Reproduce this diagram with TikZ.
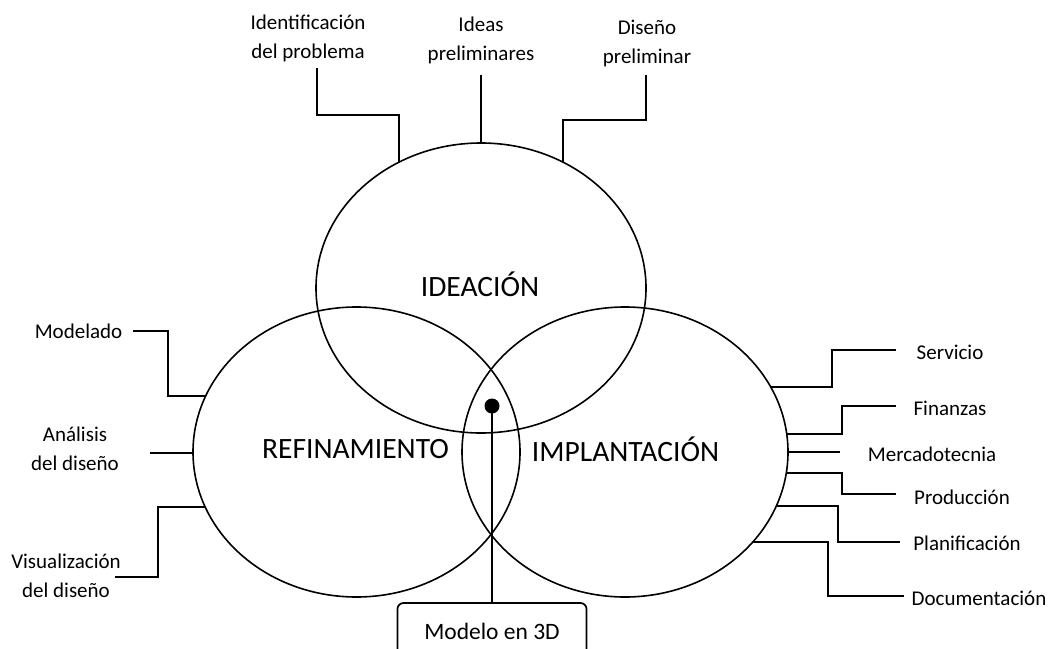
\documentclass[tikz,border=0pt]{standalone}
\usepackage{fontspec}
\setmainfont{Carlito}
\usetikzlibrary{shapes.geometric}
\begin{document}
\begin{tikzpicture}[x=1pt,y=-1pt,
  circle3/.style={draw=black,line width=1.6pt,ellipse,inner sep=0pt},
  conn/.style={draw=black,line width=2.2pt},
  lbl/.style={font=\fontsize{21}{29}\selectfont,align=center,inner sep=0pt},
  big/.style={font=\fontsize{29.5}{32}\selectfont,inner sep=0pt},
  modelbox/.style={draw=black,line width=1.7pt,rounded corners=6pt,minimum width=189pt,minimum height=60pt,inner sep=0pt}]
\useasboundingbox (0,0) rectangle (1052,648);
\clip (0,0) rectangle (1052,648);

% the three overlapping areas
\node[circle3,minimum width=330pt,minimum height=290pt] (ide) at (481,288) {};
\node[circle3,minimum width=327pt,minimum height=290pt] (ref) at (356.5,452) {};
\node[circle3,minimum width=326pt,minimum height=290pt] (imp) at (625,452) {};

\node[big] (tide) at (480,284) {IDEACIÓN};
\node[big] (tref) at (355.5,449) {REFINAMIENTO};
\node[big] (timp) at (625.5,449) {IMPLANTACIÓN};

% central model
\node[modelbox] (box) at (492,633) {};
\node[font=\fontsize{23.5}{26}\selectfont,inner sep=0pt] (tbox) at (492,631) {Modelo en 3D};
\node[circle,fill=black,inner sep=0pt,minimum size=15pt] (dot) at (492,406) {};
\draw[conn] (dot.center) -- (box.north);

% attachment points on the borders
\coordinate (i1) at (399,162);
\coordinate (i2) at (481,143);
\coordinate (i3) at (563,162);
\coordinate (r1) at (205,396);
\coordinate (r2) at (193,453);
\coordinate (r3) at (205,507);
\coordinate (m1) at (771,387);
\coordinate (m2) at (787,434);
\coordinate (m3) at (788,452);
\coordinate (m4) at (786,473);
\coordinate (m5) at (776,506);
\coordinate (m6) at (753,542);

% top labels
\node[lbl] (l1) at (308,38) {Identificación\\del problema};
\node[lbl] (l2) at (481,40) {Ideas\\preliminares};
\node[lbl] (l3) at (647,43) {Diseño\\preliminar};
\coordinate (a1) at (317,68);
\coordinate (a2) at (481,75);
\coordinate (a3) at (646,75);
\draw[conn] (i1) -- (399,115) -| (a1);
\draw[conn] (i2) -- (a2);
\draw[conn] (i3) -- (563,120) -| (a3);

% left labels
\node[lbl] (l4) at (78.5,331) {Modelado};
\node[lbl] (l5) at (75,449) {Análisis\\del diseño};
\node[lbl] (l6) at (66,576) {Visualización\\del diseño};
\coordinate (a4) at (133,331);
\coordinate (a5) at (150,453);
\coordinate (a6) at (115,577);
\draw[conn] (a4) -| (168,396) -- (r1);
\draw[conn] (a5) -- (r2);
\draw[conn] (r3) -- (158,507) |- (a6);

% right labels
\node[lbl] (l7) at (950,352) {Servicio};
\node[lbl] (l8) at (950,408) {Finanzas};
\node[lbl] (l9) at (932,454) {Mercadotecnia};
\node[lbl] (l10) at (962,497) {Producción};
\node[lbl] (l11) at (967,543) {Planificación};
\node[lbl] (l12) at (979,598) {Documentación};
\coordinate (a7) at (896,350);
\coordinate (a8) at (896,406);
\coordinate (a9) at (840,452);
\coordinate (a10) at (896,494);
\coordinate (a11) at (900,542);
\coordinate (a12) at (904,596);
\draw[conn] (m1) -- (832,387) |- (a7);
\draw[conn] (m2) -- (842,434) |- (a8);
\draw[conn] (m3) -- (a9);
\draw[conn] (m4) -- (842,473) |- (a10);
\draw[conn] (m5) -- (838,506) |- (a11);
\draw[conn] (m6) -- (828,542) |- (a12);
\end{tikzpicture}
\end{document}
